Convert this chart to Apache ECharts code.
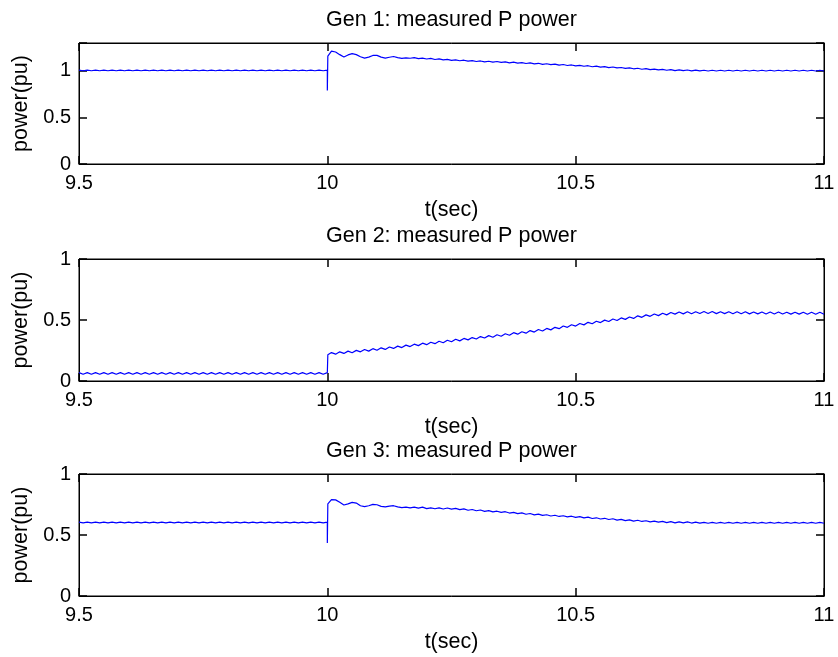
<!DOCTYPE html>
<html>
<head>
<meta charset="utf-8">
<script src="https://cdn.jsdelivr.net/npm/echarts@6/dist/echarts.min.js"></script>
<style>
  html, body { margin: 0; padding: 0; background: #fff; }
  #chart { width: 838px; height: 657px; }
</style>
</head>
<body>
<div id="chart"></div>
<script>
// Sampling: 120 samples per second, from 9.5 s to 11.0 s; the fault hits at t = 10.0 s
const tStart = 9.5;
const tFault = 10.0;
const sampleStep = 1 / 120;
const faultTimes = [10.0, 10.001];

const titles = ['Gen 1: measured P power', 'Gen 2: measured P power', 'Gen 3: measured P power'];
const xTicks = [9.5, 10, 10.5, 11];
const yMax = [1.3, 1, 1];

// Gen 1 — samples from 9.5 s to 10.0 s (61 values)
const gen1Pre = [
  1.008, 1.002, 1.008, 1.002, 1.008, 1.002,
  1.008, 1.002, 1.008, 1.002, 1.008, 1.002,
  1.008, 1.002, 1.008, 1.002, 1.008, 1.002,
  1.008, 1.002, 1.008, 1.002, 1.008, 1.002,
  1.008, 1.002, 1.008, 1.002, 1.008, 1.002,
  1.008, 1.002, 1.008, 1.002, 1.008, 1.002,
  1.008, 1.002, 1.008, 1.002, 1.008, 1.002,
  1.008, 1.002, 1.008, 1.002, 1.008, 1.002,
  1.008, 1.002, 1.008, 1.002, 1.008, 1.002,
  1.008, 1.002, 1.008, 1.002, 1.008, 1.002,
  1.008
];
const gen1Fault = [0.79, 1.16];
// Gen 1 — samples after the fault, 10.0083 s to 11.0 s (120 values)
const gen1Post = [
  1.212, 1.203, 1.175, 1.150, 1.172, 1.186,
  1.175, 1.152, 1.138, 1.148, 1.166, 1.167,
  1.148, 1.138, 1.147, 1.155, 1.143, 1.134,
  1.141, 1.136, 1.142, 1.133, 1.138, 1.128,
  1.134, 1.123, 1.129, 1.118, 1.124, 1.113,
  1.119, 1.109, 1.115, 1.105, 1.111, 1.101,
  1.107, 1.098, 1.104, 1.094, 1.101, 1.091,
  1.097, 1.087, 1.094, 1.084, 1.090, 1.080,
  1.086, 1.076, 1.082, 1.071, 1.077, 1.067,
  1.073, 1.063, 1.069, 1.058, 1.064, 1.054,
  1.060, 1.050, 1.056, 1.045, 1.051, 1.041,
  1.047, 1.036, 1.042, 1.032, 1.037, 1.027,
  1.033, 1.023, 1.029, 1.018, 1.024, 1.014,
  1.020, 1.011, 1.017, 1.007, 1.014, 1.004,
  1.011, 1.003, 1.010, 1.001, 1.009, 1.000,
  1.007, 0.999, 1.007, 0.999, 1.007, 0.999,
  1.007, 0.999, 1.007, 0.999, 1.007, 0.999,
  1.007, 0.999, 1.007, 0.999, 1.007, 0.999,
  1.007, 0.999, 1.007, 0.999, 1.007, 0.999,
  1.007, 0.999, 1.007, 0.999, 1.007, 0.999
];

// Gen 2
const gen2Pre = [
  0.069, 0.055, 0.069, 0.055, 0.069, 0.055,
  0.069, 0.055, 0.069, 0.055, 0.069, 0.055,
  0.069, 0.055, 0.069, 0.055, 0.069, 0.055,
  0.069, 0.055, 0.069, 0.055, 0.069, 0.055,
  0.069, 0.055, 0.069, 0.055, 0.069, 0.055,
  0.069, 0.055, 0.069, 0.055, 0.069, 0.055,
  0.069, 0.055, 0.069, 0.055, 0.069, 0.055,
  0.069, 0.055, 0.069, 0.055, 0.069, 0.055,
  0.069, 0.055, 0.069, 0.055, 0.069, 0.055,
  0.069, 0.055, 0.069, 0.055, 0.069, 0.055,
  0.069
];
const gen2Fault = [0.062, 0.215];
const gen2Post = [
  0.233, 0.220, 0.239, 0.226, 0.245, 0.232,
  0.251, 0.239, 0.258, 0.245, 0.265, 0.252,
  0.272, 0.259, 0.279, 0.267, 0.286, 0.274,
  0.294, 0.282, 0.302, 0.290, 0.310, 0.298,
  0.318, 0.306, 0.326, 0.314, 0.334, 0.322,
  0.342, 0.329, 0.349, 0.337, 0.356, 0.344,
  0.364, 0.352, 0.372, 0.359, 0.379, 0.367,
  0.387, 0.375, 0.396, 0.384, 0.404, 0.392,
  0.413, 0.401, 0.422, 0.410, 0.431, 0.419,
  0.440, 0.429, 0.451, 0.440, 0.461, 0.450,
  0.471, 0.460, 0.481, 0.469, 0.490, 0.479,
  0.499, 0.488, 0.508, 0.496, 0.517, 0.505,
  0.525, 0.513, 0.534, 0.522, 0.542, 0.530,
  0.549, 0.536, 0.555, 0.542, 0.561, 0.548,
  0.565, 0.550, 0.567, 0.551, 0.568, 0.553,
  0.569, 0.553, 0.569, 0.552, 0.568, 0.552,
  0.568, 0.551, 0.567, 0.551, 0.567, 0.550,
  0.566, 0.550, 0.566, 0.549, 0.565, 0.549,
  0.565, 0.549, 0.564, 0.548, 0.564, 0.548,
  0.564, 0.547, 0.563, 0.547, 0.563, 0.547
];

// Gen 3
const gen3Pre = [
  0.606, 0.600, 0.606, 0.600, 0.606, 0.600,
  0.606, 0.600, 0.606, 0.600, 0.606, 0.600,
  0.606, 0.600, 0.606, 0.600, 0.606, 0.600,
  0.606, 0.600, 0.606, 0.600, 0.606, 0.600,
  0.606, 0.600, 0.606, 0.600, 0.606, 0.600,
  0.606, 0.600, 0.606, 0.600, 0.606, 0.600,
  0.606, 0.600, 0.606, 0.600, 0.606, 0.600,
  0.606, 0.600, 0.606, 0.600, 0.606, 0.600,
  0.606, 0.600, 0.606, 0.600, 0.606, 0.600,
  0.606, 0.600, 0.606, 0.600, 0.606, 0.600,
  0.606
];
const gen3Fault = [0.435, 0.755];
const gen3Post = [
  0.790, 0.788, 0.768, 0.746, 0.755, 0.767,
  0.762, 0.740, 0.732, 0.740, 0.751, 0.748,
  0.735, 0.731, 0.737, 0.740, 0.730, 0.724,
  0.728, 0.722, 0.729, 0.720, 0.728, 0.716,
  0.723, 0.715, 0.722, 0.713, 0.721, 0.712,
  0.718, 0.708, 0.714, 0.703, 0.709, 0.699,
  0.705, 0.694, 0.700, 0.690, 0.695, 0.685,
  0.691, 0.680, 0.686, 0.675, 0.681, 0.670,
  0.676, 0.665, 0.671, 0.661, 0.666, 0.656,
  0.662, 0.652, 0.658, 0.648, 0.654, 0.644,
  0.650, 0.640, 0.646, 0.635, 0.641, 0.631,
  0.637, 0.627, 0.633, 0.622, 0.628, 0.618,
  0.624, 0.614, 0.621, 0.611, 0.617, 0.607,
  0.614, 0.605, 0.612, 0.602, 0.609, 0.600,
  0.608, 0.599, 0.607, 0.598, 0.606, 0.597,
  0.604, 0.596, 0.604, 0.596, 0.604, 0.596,
  0.604, 0.596, 0.604, 0.596, 0.604, 0.596,
  0.604, 0.596, 0.604, 0.596, 0.604, 0.596,
  0.604, 0.596, 0.604, 0.596, 0.604, 0.596,
  0.604, 0.596, 0.604, 0.596, 0.604, 0.596
];

// Join the pre-fault, fault-instant and post-fault samples into [t, P] pairs
function buildSeries(pre, fault, post) {
  const pts = [];
  pre.forEach((v, i) => pts.push([tStart + i * sampleStep, v]));
  fault.forEach((v, i) => pts.push([faultTimes[i], v]));
  post.forEach((v, i) => pts.push([tFault + (i + 1) * sampleStep, v]));
  return pts;
}
const seriesData = [
  buildSeries(gen1Pre, gen1Fault, gen1Post),
  buildSeries(gen2Pre, gen2Fault, gen2Post),
  buildSeries(gen3Pre, gen3Fault, gen3Post)
];

const FONT = 'Liberation Sans, Arial, Helvetica, sans-serif';
const gridLeft = 79, gridWidth = 745;
const gridTops = [43, 259, 474];
const gridHeights = [121, 122, 122];

// fresh style objects for every axis; ticks point into the plot box
const tickStyle = () => ({ show: true, inside: true, length: 8, lineStyle: { color: '#000', width: 1.5 } });
const axisLineStyle = () => ({ show: true, onZero: false, lineStyle: { color: '#000', width: 1 } });

const grids = [], xAxes = [], yAxes = [], series = [], graphics = [];

for (let k = 0; k < 3; k++) {
  // boxed axes: the grid border draws all four sides
  grids.push({ left: gridLeft, top: gridTops[k], width: gridWidth, height: gridHeights[k],
    show: true, borderColor: '#000', borderWidth: 1 });

  const xCommon = () => ({ gridIndex: k, type: 'value', min: xTicks[0], max: xTicks[xTicks.length - 1],
    interval: 0.5, splitLine: { show: false }, axisLine: axisLineStyle(), axisTick: tickStyle() });
  xAxes.push(Object.assign(xCommon(), {
    position: 'bottom',
    axisLabel: { show: true, margin: 9, color: '#000', fontSize: 20, fontFamily: FONT },
    name: 't(sec)', nameLocation: 'middle', nameGap: 35,
    nameTextStyle: { color: '#000', fontSize: 21.5, fontFamily: FONT }
  }));
  xAxes.push(Object.assign(xCommon(), { position: 'top', axisLabel: { show: false } }));

  const yCommon = () => ({ gridIndex: k, type: 'value', min: 0, max: yMax[k], interval: 0.5,
    splitLine: { show: false }, axisLine: axisLineStyle(), axisTick: tickStyle() });
  yAxes.push(Object.assign(yCommon(), {
    position: 'left',
    axisLabel: { show: true, margin: 8, color: '#000', fontSize: 20, fontFamily: FONT,
      formatter: (v) => (Math.abs(v / 0.5 - Math.round(v / 0.5)) < 1e-6 ? String(v) : '') },
    name: 'power(pu)', nameLocation: 'middle', nameGap: 44,
    nameTextStyle: { color: '#000', fontSize: 21.5, fontFamily: FONT }
  }));
  yAxes.push(Object.assign(yCommon(), { position: 'right', axisLabel: { show: false } }));

  series.push({
    type: 'line', xAxisIndex: 2 * k, yAxisIndex: 2 * k,
    data: seriesData[k], showSymbol: false, symbol: 'none',
    lineStyle: { color: '#0000ff', width: 1.2 }
  });

  graphics.push({
    type: 'text', x: gridLeft + gridWidth / 2, y: gridTops[k] - 22.5,
    style: { text: titles[k], fill: '#000', font: '21.5px ' + FONT, textAlign: 'center', textVerticalAlign: 'middle' }
  });
}

const chart = echarts.init(document.getElementById('chart'), null, { renderer: 'canvas' });
chart.setOption({
  animation: false,
  backgroundColor: '#fff',
  grid: grids,
  xAxis: xAxes,
  yAxis: yAxes,
  series: series,
  graphic: graphics
});
</script>
</body>
</html>
